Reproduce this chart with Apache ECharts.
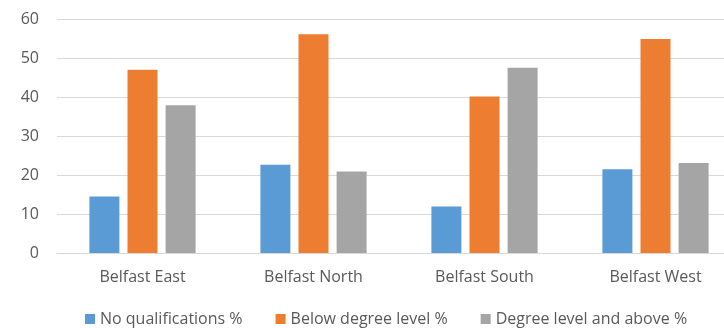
<!DOCTYPE html>
<html>
<head>
<meta charset="utf-8">
<script src="https://cdn.jsdelivr.net/npm/echarts@6/dist/echarts.min.js"></script>
<style>
  html, body { margin: 0; padding: 0; background: #fff; overflow: hidden; }
  /* the source picture is cropped on the right, so the chart runs past the window */
  #chart { width: 741px; height: 328px; }
</style>
</head>
<body>
<div id="chart"></div>
<script>
const categories = ["Belfast East", "Belfast North", "Belfast South", "Belfast West"];
const seriesNames = ["No qualifications %", "Below degree level %", "Degree level and above %"];
const noQualifications = [14.5, 22.6, 11.9, 21.5];
const belowDegree = [47.0, 56.1, 40.1, 54.9];
const degreeAndAbove = [37.9, 20.9, 47.5, 23.1];
const colors = ["#5b9bd5", "#ed7d31", "#a5a5a5"];

const textColor = "#595959";
const font = "Open Sans";

const chart = echarts.init(document.getElementById("chart"), null, { renderer: "canvas" });

const values = [noQualifications, belowDegree, degreeAndAbove];

chart.setOption({
  animation: false,
  color: colors,
  grid: {
    left: 57,
    top: 19,
    right: 0,
    height: 234,
  },
  legend: {
    left: 80,
    top: 306,
    itemWidth: 10,
    itemHeight: 10,
    itemGap: 33,
    icon: "rect",
    textStyle: { color: textColor, fontSize: 16, fontFamily: font },
    data: seriesNames,
  },
  xAxis: {
    type: "category",
    data: categories,
    axisLine: { lineStyle: { color: "#d9d9d9" } },
    axisTick: { show: false },
    axisLabel: { color: textColor, fontSize: 16, fontFamily: font, margin: 16 },
  },
  yAxis: {
    type: "value",
    min: 0,
    max: 60,
    interval: 10,
    axisLine: { show: false },
    axisTick: { show: false },
    splitLine: { lineStyle: { color: "#d9d9d9" } },
    axisLabel: { color: textColor, fontSize: 16, fontFamily: font, margin: 18 },
  },
  series: seriesNames.map((name, i) => ({
    name: name,
    type: "bar",
    data: values[i],
    barWidth: 30,
    barGap: "27%",
  })),
});
</script>
</body>
</html>
